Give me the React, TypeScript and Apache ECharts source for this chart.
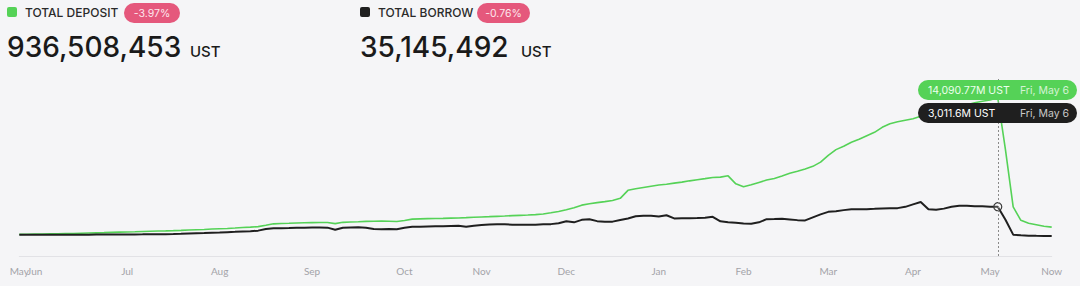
import React, { useEffect, useRef } from "react";
import * as echarts from "echarts";

// Total deposit and total borrow (millions of UST), one sample per step
const deposit = [
  203, 214, 224, 234, 254, 264, 285, 295, 315, 336,
  356, 376, 407, 427, 447, 468, 498, 519, 539, 559,
  580, 610, 641, 671, 702, 742, 773, 803, 844, 895,
  936, 986, 1119, 1271, 1312, 1332, 1363, 1383, 1393, 1403,
  1414, 1292, 1424, 1454, 1485, 1526, 1536, 1546, 1536, 1515,
  1617, 1749, 1780, 1800, 1820, 1831, 1851, 1871, 1902, 1942,
  1973, 2003, 2034, 2065, 2105, 2136, 2166, 2207, 2268, 2390,
  2522, 2695, 2898, 3173, 3305, 3427, 3529, 3641, 3865, 4678,
  4831, 4963, 5095, 5217, 5299, 5410, 5512, 5644, 5756, 5868,
  5990, 6021, 6153, 5339, 5034, 5238, 5482, 5726, 5888, 6133,
  6407, 6611, 6844, 7119, 7546, 8238, 8817, 9153, 9560, 9865,
  10221, 10577, 11085, 11441, 11645, 11797, 11950, 12204, 12458, 12662,
  12814, 12967, 13170, 13374, 13577, 13730, 13862, 14090.77, 8797, 3000,
  1627, 1322, 1170, 1020, 936.5,
];

const borrow = [
  153, 153, 153, 153, 163, 163, 163, 173, 173, 173,
  183, 183, 183, 193, 193, 193, 203, 214, 214, 224,
  234, 254, 295, 325, 346, 376, 397, 427, 458, 498,
  529, 580, 742, 824, 834, 844, 864, 885, 895, 895,
  885, 661, 864, 895, 915, 864, 742, 732, 742, 722,
  864, 966, 986, 1007, 1017, 1027, 1048, 1068, 986, 1088,
  1149, 1210, 1241, 1220, 1190, 1170, 1170, 1190, 1220, 1241,
  1322, 1526, 1424, 1678, 1729, 1546, 1475, 1495, 1658, 1820,
  2034, 2105, 2085, 2024, 2146, 1820, 1841, 1851, 1861, 1902,
  1983, 1526, 1444, 1393, 1302, 1271, 1424, 1749, 1759, 1780,
  1719, 1648, 1617, 1932, 2237, 2492, 2553, 2665, 2766, 2756,
  2766, 2797, 2837, 2868, 2868, 3000, 3254, 3488, 2746, 2695,
  2817, 3000, 3102, 3102, 3071, 3051, 3020, 3011.6, 1678, 173,
  102, 71, 51, 41, 35.1,
];

// Month labels and the sample index each one sits on
const monthTickIndex = [0, 2, 14, 26, 38, 50, 60, 71, 83, 94, 105, 116, 126, 134];
const monthTickLabel = ["May", "Jun", "Jul", "Aug", "Sep", "Oct", "Nov", "Dec", "Jan", "Feb", "Mar", "Apr", "May", "Now"];

// Highlighted sample
const focusIndex = 127;
const focusDate = "Fri, May 6";

// Header figures
const depositTotal = "936,508,453";
const depositChange = "-3.97%";
const borrowTotal = "35,145,492";
const borrowChange = "-0.76%";

const GREEN = "#55d257";
const DARK = "#1f1f1f";
const PINK = "#e5587c";
const BG = "#f5f5f7";
const FONT = "Inter, 'Noto Sans', sans-serif";

const fmtM = (v: number) =>
  v.toLocaleString("en-US", { maximumFractionDigits: 2 }) + "M UST";

export default function App() {
  const ref = useRef<HTMLDivElement>(null);

  useEffect(() => {
    document.body.style.margin = "0";
    document.body.style.background = BG;
    if (!ref.current) return;
    const chart = echarts.init(ref.current, undefined, { renderer: "svg" });

    const categories = deposit.map((_, i) => String(i));
    const tickMap = new Map<number, string>();
    monthTickIndex.forEach((idx, k) => tickMap.set(idx, monthTickLabel[k]));

    const header = (x: number, color: string, title: string, change: string, changeW: number, total: string, unitX: number) => [
      { type: "rect", z: 100, shape: { x, y: 7, width: 10, height: 10, r: 2 }, style: { fill: color } },
      {
        type: "text", z: 100, x: x + 18, y: 12,
        style: { text: title, fill: "#2a2a2a", font: `500 12px ${FONT}`, verticalAlign: "middle" },
      },
      { type: "rect", z: 100, shape: { x: x + 117, y: 3, width: changeW, height: 20, r: 10 }, style: { fill: PINK } },
      {
        type: "text", z: 100, x: x + 117 + changeW / 2, y: 13,
        style: { text: change, fill: "#fde6ec", font: `400 10.5px ${FONT}`, align: "center", verticalAlign: "middle" },
      },
      {
        type: "text", z: 100, x, y: 47,
        style: { text: total, fill: "#1a1a1a", font: `500 28px ${FONT}`, verticalAlign: "middle" },
      },
      {
        type: "text", z: 100, x: unitX, y: 51,
        style: { text: "UST", fill: "#1a1a1a", font: `500 15px ${FONT}`, verticalAlign: "middle" },
      },
    ];

    const pill = (y: number, fill: string, valueText: string, valueColor: string, dateColor: string) => [
      { type: "rect", z: 100, shape: { x: 918, y, width: 159, height: 20, r: 10 }, style: { fill } },
      {
        type: "text", z: 101, x: 928, y: y + 10,
        style: { text: valueText, fill: valueColor, font: `400 10.5px ${FONT}`, verticalAlign: "middle" },
      },
      {
        type: "text", z: 101, x: 1069, y: y + 10,
        style: { text: focusDate, fill: dateColor, font: `400 10.5px ${FONT}`, align: "right", verticalAlign: "middle" },
      },
    ];

    chart.setOption({
      animation: false,
      backgroundColor: BG,
      grid: { left: 19.3, right: 28.3, top: 79, bottom: 30, containLabel: false },
      xAxis: {
        type: "category",
        data: categories,
        boundaryGap: false,
        axisLine: { onZero: false, lineStyle: { color: "#e2e2e6", width: 1 } },
        axisTick: { show: false },
        splitLine: { show: false },
        axisLabel: {
          interval: 0,
          margin: 10,
          color: "#a3a3a8",
          fontSize: 10,
          fontFamily: "Lato, sans-serif",
          formatter: (_v: string, idx: number) => tickMap.get(idx) ?? "",
        },
      },
      yAxis: {
        type: "value",
        min: -2000,
        max: 16000,
        show: false,
        splitLine: { show: false },
      },
      series: [
        {
          name: "Total Deposit",
          type: "line",
          data: deposit,
          symbol: "none",
          lineStyle: { color: GREEN, width: 1.6 },
          z: 3,
        },
        {
          name: "Total Borrow",
          type: "line",
          data: borrow.map((v, i) =>
            i === focusIndex
              ? {
                  value: v,
                  symbol: "circle",
                  symbolSize: 8,
                  itemStyle: { color: "rgba(255,255,255,0.2)", borderColor: "#3a3a3a", borderWidth: 1.2 },
                }
              : v
          ),
          showSymbol: true,
          symbol: "none",
          lineStyle: { color: DARK, width: 2 },
          z: 4,
          markLine: {
            silent: true,
            symbol: "none",
            label: { show: false },
            lineStyle: { color: "#8a8a8a", type: [2, 2], width: 1 },
            data: [{ xAxis: focusIndex }],
          },
        },
      ],
      graphic: [
        ...header(7, GREEN, "TOTAL DEPOSIT", depositChange, 56, depositTotal, 190),
        ...header(360, DARK, "TOTAL BORROW", borrowChange, 53, borrowTotal, 521),
        ...pill(80, GREEN, fmtM(deposit[focusIndex]), "#ecffec", "rgba(255,255,255,0.75)"),
        ...pill(103, DARK, fmtM(borrow[focusIndex]), "#ffffff", "#c8c8c8"),
      ],
    });

    return () => chart.dispose();
  }, []);

  return <div ref={ref} style={{ width: 1080, height: 286 }} />;
}
